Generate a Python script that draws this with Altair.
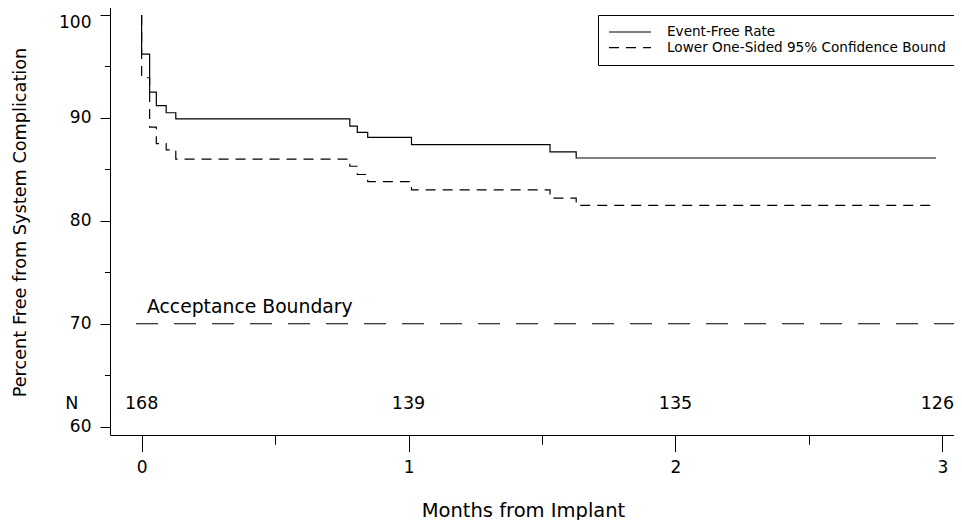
import altair as alt
import pandas as pd

# ---------------- data ----------------
series_names = ["Event-Free Rate", "Lower One-Sided 95% Confidence Bound"]
step_months = [0.0, 0.0, 0.030, 0.055, 0.092, 0.128, 0.780, 0.808, 0.847, 1.011, 1.530, 1.628, 2.976]
event_free = [100.0, 96.2, 92.5, 91.2, 90.5, 89.9, 89.2, 88.6, 88.1, 87.4, 86.7, 86.1, 86.1]
lower_bound = [100.0, 93.9, 89.1, 87.5, 86.9, 86.0, 85.3, 84.5, 83.8, 83.0, 82.2, 81.5, 81.5]

risk_months = [0, 1, 2, 3]
risk_counts = ["168", "139", "135", "126"]
risk_header = "N"

acceptance_value = 70
acceptance_label = "Acceptance Boundary"

x_major = [0, 1, 2, 3]
x_minor = [0.5, 1.5, 2.5]
y_major = [60, 70, 80, 90, 100]
y_minor = [65, 75, 85, 95]

x_title = "Months from Implant"
y_title = "Percent Free from System Complication"

# ---------------- layout / style ----------------
W, H = 851, 429
X_DOMAIN = [-0.1185, 3.0697]
Y_DOMAIN = [59.19, 100.87]
FONT = "DejaVu Sans"
RISK_ROW_Y = 62.2
HEADER_X = -0.262
BOUNDARY_START = -0.021

rows = []
for name, vals in zip(series_names, [event_free, lower_bound]):
    for i, (m, v) in enumerate(zip(step_months, vals)):
        rows.append({"month": m, "pct": v, "series": name, "idx": i})
curves = pd.DataFrame(rows)

risk = pd.DataFrame({"month": risk_months, "n": risk_counts, "y": [RISK_ROW_Y] * len(risk_months)})
header = pd.DataFrame({"month": [HEADER_X], "n": [risk_header], "y": [RISK_ROW_Y]})
boundary = pd.DataFrame({"x0": [BOUNDARY_START], "x1": [X_DOMAIN[1]], "y": [acceptance_value],
                         "label": [acceptance_label], "lx": [0.02]})

xs = alt.Scale(domain=X_DOMAIN, nice=False, zero=False)
ys = alt.Scale(domain=Y_DOMAIN, nice=False, zero=False)

lines = alt.Chart(curves).mark_line(interpolate="step-after", color="black", strokeWidth=1.2).encode(
    x=alt.X("month:Q", scale=xs,
            axis=alt.Axis(values=x_major, tickSize=16.7, labelPadding=8, format="d",
                          labelFontSize=17, labelFlush=False, title=x_title, titleFontSize=19.5,
                          titleX=413, titleY=75, titleBaseline="middle")),
    y=alt.Y("pct:Q", scale=ys,
            axis=alt.Axis(values=y_major, tickSize=10, labelPadding=9, format="d",
                          labelFontSize=17,
                          labelBaseline=alt.ExprRef("datum.value >= 100 ? 'top' : 'middle'"),
                          title=y_title, titleFontSize=17.7,
                          titleX=-89.5, titleY=216, titleBaseline="middle")),
    strokeDash=alt.StrokeDash(
        "series:N",
        scale=alt.Scale(domain=series_names, range=[[1, 0], [10, 7]]),
        legend=alt.Legend(
            title=None, orient="none", legendX=488, legendY=9,
            strokeColor="black", fillColor="white", padding=10, cornerRadius=0,
            symbolType="M-1,0H6", symbolSize=144, symbolStrokeWidth=1.2,
            symbolStrokeColor="black", labelFont=FONT, labelFontSize=13.6,
            labelColor="black", labelOffset=45, labelLimit=400, rowPadding=1.6,
        ),
    ),
    order="idx:Q",
)

risk_text = alt.Chart(risk).mark_text(font=FONT, fontSize=17.5, color="black",
                                      align="center", baseline="middle",
                                      dx=alt.ExprRef("datum.month >= 3 ? -5 : 0")).encode(
    x=alt.X("month:Q", scale=xs,
            axis=alt.Axis(orient="bottom", values=x_minor, tickSize=9.3, labels=False,
                          domain=False, title=None)),
    y=alt.Y("y:Q", scale=ys,
            axis=alt.Axis(orient="left", values=y_minor, tickSize=5.5, labels=False,
                          domain=False, title=None)),
    text="n:N",
)

header_text = alt.Chart(header).mark_text(font=FONT, fontSize=17.5, color="black",
                                          align="center", baseline="middle").encode(
    x=alt.X("month:Q", scale=xs, axis=None),
    y=alt.Y("y:Q", scale=ys, axis=None),
    text="n:N",
)

rule = alt.Chart(boundary).mark_rule(color="black", strokeWidth=1.2, strokeDash=[22, 16]).encode(
    x=alt.X("x0:Q", scale=xs,
            axis=alt.Axis(orient="top", domain=True, ticks=False, labels=False, title=None)),
    x2="x1:Q",
    y=alt.Y("y:Q", scale=ys, axis=None),
)

rule_label = alt.Chart(boundary).mark_text(font=FONT, fontSize=18.8, color="black",
                                           align="left", baseline="middle", dy=-16.5).encode(
    x=alt.X("lx:Q", scale=xs, axis=None),
    y=alt.Y("y:Q", scale=ys, axis=None),
    text="label:N",
)

chart = alt.layer(lines, risk_text, header_text, rule, rule_label).resolve_axis(
    x="independent", y="independent"
).properties(
    width=W, height=H,
    autosize=alt.AutoSizeParams(type="none"),
    padding={"left": 102, "top": -2, "right": -7, "bottom": 85},
    background="white",
).configure_view(stroke=None).configure_axis(
    grid=False, domainColor="black", tickColor="black", labelColor="black",
    titleColor="black", labelFont=FONT, titleFont=FONT, titleFontWeight="normal",
    domainWidth=1, tickWidth=1,
)

chart.save("out.html", embed_options={"renderer": "svg", "actions": False})
